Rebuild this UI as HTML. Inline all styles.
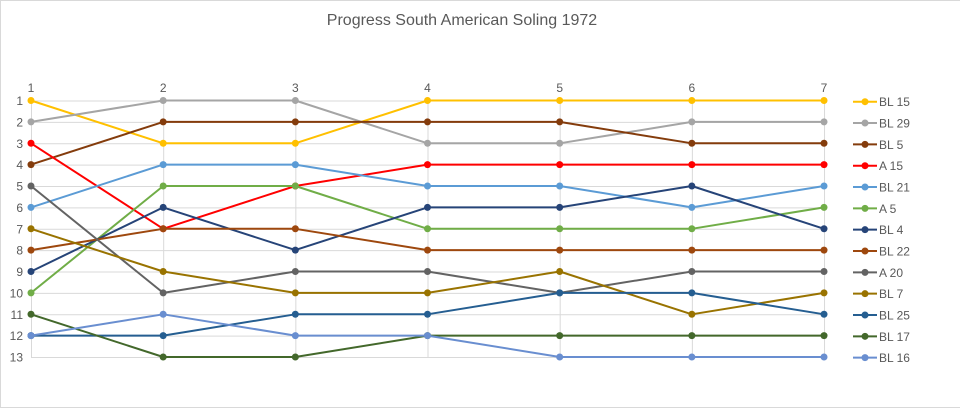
<!DOCTYPE html>
<html><head><meta charset="utf-8"><style>
html,body{margin:0;padding:0;background:#fff;}
svg{display:block;font-family:"Liberation Sans",Arial,sans-serif;}
</style></head><body>
<svg width="960" height="409" viewBox="0 0 960 409" xmlns="http://www.w3.org/2000/svg">
<rect x="0.5" y="0.5" width="962" height="407" fill="#fff" stroke="#d9d9d9" stroke-width="1"/>
<text x="462" y="25" text-anchor="middle" font-size="16" fill="#595959">Progress South American Soling 1972</text>
<g id="grid" stroke="#d9d9d9" stroke-width="1" fill="none"></g>
<g id="labels" font-size="12" fill="#595959"></g>
<g id="series"></g>
<g id="legend" font-size="12" fill="#595959"></g>
<script>
(function(){
var NS="http://www.w3.org/2000/svg";
function X(i){return 31+(i-1)*132.17;}
function Y(r){return 100.5+(r-1)*21.375;}
function el(t,a,p){var e=document.createElementNS(NS,t);for(var k in a)e.setAttribute(k,a[k]);p.appendChild(e);return e;}
var g=document.getElementById('grid'),lb=document.getElementById('labels'),s=document.getElementById('series'),lg=document.getElementById('legend');
for(var r=1;r<=13;r++){
 el('line',{x1:X(1),x2:X(7),y1:Y(r)+0.5,y2:Y(r)+0.5},g);
 var t=el('text',{x:23,y:Y(r)+4.5,'text-anchor':'end'},lb);t.textContent=r;
}
for(var i=1;i<=7;i++){
 el('line',{x1:X(i)+0.5,x2:X(i)+0.5,y1:Y(1),y2:Y(13)},g);
 var t=el('text',{x:X(i),y:92,'text-anchor':'middle'},lb);t.textContent=i;
}
var data=[
["BL 15","#FFC000",[1,3,3,1,1,1,1]],
["BL 29","#A5A5A5",[2,1,1,3,3,2,2]],
["BL 5","#843C0C",[4,2,2,2,2,3,3]],
["A 15","#FF0000",[3,7,5,4,4,4,4]],
["BL 21","#5B9BD5",[6,4,4,5,5,6,5]],
["A 5","#70AD47",[10,5,5,7,7,7,6]],
["BL 4","#264478",[9,6,8,6,6,5,7]],
["BL 22","#9E480E",[8,7,7,8,8,8,8]],
["A 20","#636363",[5,10,9,9,10,9,9]],
["BL 7","#997300",[7,9,10,10,9,11,10]],
["BL 25","#255E91",[12,12,11,11,10,10,11]],
["BL 17","#43682B",[11,13,13,12,12,12,12]],
["BL 16","#698ED0",[12,11,12,12,13,13,13]]
];
data.forEach(function(d,k){
 var pts=d[2].map(function(r,i){return X(i+1).toFixed(1)+","+Y(r).toFixed(1);}).join(" ");
 el('polyline',{points:pts,fill:'none',stroke:d[1],'stroke-width':2,'stroke-linejoin':'round'},s);
 d[2].forEach(function(r,i){el('circle',{cx:X(i+1),cy:Y(r),r:3.5,fill:d[1]},s);});
 var ly=101.7+k*21.33;
 el('line',{x1:853,x2:877,y1:ly,y2:ly,stroke:d[1],'stroke-width':2},lg);
 el('circle',{cx:865,cy:ly,r:3.5,fill:d[1]},lg);
 var t=el('text',{x:879,y:ly+4.5},lg);t.textContent=d[0];
});
})();
</script>
</svg>
</body></html>
